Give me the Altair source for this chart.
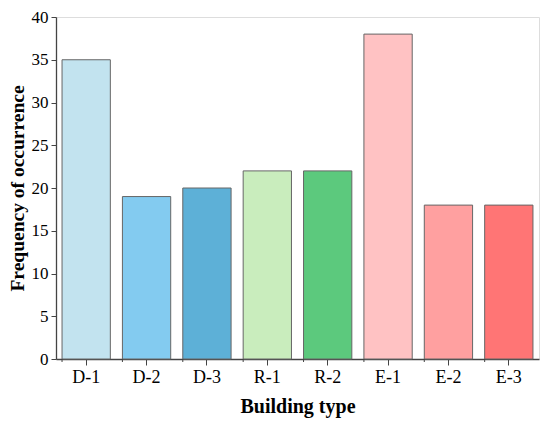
import altair as alt
import pandas as pd

categories = ["D-1", "D-2", "D-3", "R-1", "R-2", "E-1", "E-2", "E-3"]
values = [35, 19, 20, 22, 22, 38, 18, 18]
colors = ["#C2E3EF", "#83CBF0", "#5DB0D7", "#C9EDBD", "#5CC97D", "#FFC2C3", "#FFA0A0", "#FF7575"]

df = pd.DataFrame({"cat": categories, "val": values, "color": colors})

FONT = "Liberation Serif"
W, H = 483, 342

x_axis = alt.Axis(title="Building type", labelAngle=0, labelFont=FONT, labelFontSize=18,
                  labelColor="black", titleFont=FONT, titleFontSize=20, titleFontWeight="bold",
                  titleColor="black", tickSize=6, tickColor="#444", domainColor="#444",
                  labelPadding=3, titlePadding=10, domainWidth=1.3)

bars = alt.Chart(df).mark_bar(stroke="#666666", strokeWidth=1).encode(
    x=alt.X("cat:N", sort=categories,
            scale=alt.Scale(paddingInner=0.2, paddingOuter=0.1), axis=x_axis),
    y=alt.Y("val:Q", scale=alt.Scale(domain=[0, 40], nice=False),
            axis=alt.Axis(title="Frequency of occurrence", values=list(range(0, 41, 5)),
                          labelFont=FONT, labelFontSize=17, labelColor="black",
                          titleFont=FONT, titleFontSize=19.5, titleFontWeight="bold", titleColor="black",
                          tickSize=5, tickColor="#444", domainColor="#444", grid=False,
                          labelPadding=3, titlePadding=4, domainWidth=1.3)),
    color=alt.Color("color:N", scale=None),
)

minor = alt.Chart(df).mark_rule(color="#444", strokeWidth=1).encode(
    x=alt.X("cat:N", sort=categories, bandPosition=0, axis=x_axis),
    y=alt.value(H),
    y2=alt.value(H + 3),
)

chart = alt.layer(bars, minor).properties(
    width=W, height=H,
    padding={"left": 48, "top": 9, "right": 3, "bottom": 66},
    autosize=alt.AutoSizeParams(type="none"),
).configure_view(stroke="#444", strokeWidth=1.3).configure(background="white")

chart.save("out.html", embed_options={"renderer": "svg", "actions": False})
